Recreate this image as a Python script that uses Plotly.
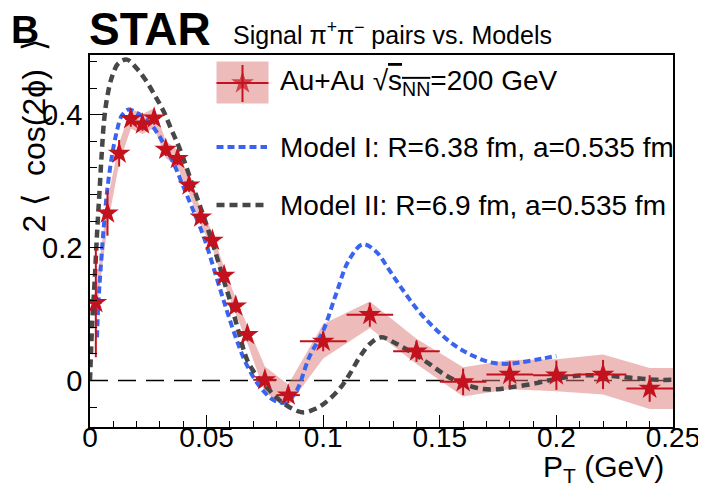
import plotly.graph_objects as go

# ---------------- data ----------------
pt = [0.0025, 0.0075, 0.0125, 0.0175, 0.0225, 0.0275, 0.0325, 0.0375, 0.0425, 0.0475,
      0.0525, 0.0575, 0.0625, 0.0675, 0.075, 0.085, 0.10, 0.12, 0.14, 0.16,
      0.18, 0.20, 0.22, 0.24]
v2 = [0.117, 0.252, 0.342, 0.394, 0.386, 0.395, 0.348, 0.334, 0.294, 0.246,
      0.211, 0.158, 0.112, 0.069, 0.001, -0.022, 0.059, 0.099, 0.044, -0.002,
      0.009, 0.008, 0.009, -0.012]
pt_err = [0.0025, 0.0025, 0.0025, 0.0025, 0.0025, 0.0025, 0.0025, 0.0025, 0.0025, 0.0025,
          0.0025, 0.0025, 0.0025, 0.0025, 0.005, 0.005, 0.01, 0.01, 0.01, 0.01,
          0.01, 0.01, 0.01, 0.01]
stat_err = [0.082, 0.034, 0.02, 0.012, 0.01, 0.01, 0.01, 0.01, 0.01, 0.01,
            0.01, 0.01, 0.01, 0.01, 0.012, 0.012, 0.015, 0.018, 0.016, 0.02,
            0.02, 0.022, 0.022, 0.02]
sys_err = [0.02, 0.02, 0.015, 0.015, 0.015, 0.015, 0.013, 0.013, 0.012, 0.012,
           0.012, 0.012, 0.012, 0.013, 0.02, 0.016, 0.026, 0.02, 0.019, 0.022,
           0.022, 0.024, 0.03, 0.031]

model1_x = [0.003, 0.0035, 0.0045, 0.006, 0.0075, 0.0095, 0.0115, 0.0135, 0.0165, 0.020,
            0.0245, 0.029, 0.033, 0.0365, 0.040, 0.0444, 0.049, 0.054, 0.0586, 0.063,
            0.067, 0.073, 0.079, 0.084, 0.0886, 0.094, 0.100, 0.1056, 0.111, 0.117,
            0.1227, 0.128, 0.134, 0.141, 0.148, 0.1555, 0.1626, 0.171, 0.178, 0.184,
            0.194, 0.200]
model1_y = [0.065, 0.11, 0.165, 0.235, 0.29, 0.34, 0.375, 0.398, 0.408, 0.403,
            0.392, 0.372, 0.347, 0.322, 0.292, 0.255, 0.214, 0.158, 0.106, 0.060,
            0.025, -0.010, -0.030, -0.033, -0.015, 0.035, 0.075, 0.131, 0.181, 0.205,
            0.194, 0.168, 0.137, 0.104, 0.078, 0.055, 0.040, 0.028, 0.025, 0.027,
            0.033, 0.037]

model2_x = [0.0, 0.001, 0.002, 0.003, 0.004, 0.005, 0.006, 0.0073, 0.0095, 0.0123,
            0.0159, 0.020, 0.0237, 0.028, 0.0316, 0.035, 0.0387, 0.0444, 0.0494, 0.0536,
            0.057, 0.0605, 0.064, 0.0675, 0.0714, 0.0757, 0.0814, 0.087, 0.0914, 0.0964,
            0.101, 0.107, 0.111, 0.1156, 0.120, 0.125, 0.131, 0.138, 0.1455, 0.1527,
            0.160, 0.168, 0.175, 0.181, 0.19, 0.2, 0.21, 0.221, 0.232, 0.244, 0.25]
model2_y = [0.0, 0.09, 0.15, 0.22, 0.28, 0.34, 0.39, 0.425, 0.458, 0.478,
            0.483, 0.470, 0.453, 0.428, 0.405, 0.377, 0.347, 0.29, 0.24, 0.195,
            0.155, 0.115, 0.07, 0.03, 0.0075, -0.010, -0.030, -0.043, -0.048, -0.043,
            -0.033, -0.0125, 0.0075, 0.035, 0.055, 0.065, 0.056, 0.042, 0.025, 0.0075,
            -0.005, -0.0125, -0.013, -0.010, -0.005, 0.0025, 0.0075, 0.0075, 0.004, 0.001, 0.001]

x_ticks = [0, 0.05, 0.1, 0.15, 0.2, 0.25]
x_ticklabels = ["0", "0.05", "0.1", "0.15", "0.2", "0.25"]
y_ticks = [0, 0.2, 0.4]
y_ticklabels = ["0", "0.2", "0.4"]

legend_labels = ["Au+Au √<span style='text-decoration:overline'>s<sub>NN</sub></span>=200 GeV",
                 "Model I: R=6.38 fm, a=0.535 fm",
                 "Model II: R=6.9 fm, a=0.535 fm"]

# ---------------- styles ----------------
OFF = 8                       # page body margin in the browser
W, H = 706 - OFF, 494 - OFF   # figure size so the page is exactly 706x494
L, R, T, B = 90 - OFF, 33, 55 - OFF, 67
FONT = "Liberation Sans, Arial, Helvetica, sans-serif"
RED = "#c3121e"
BAND = "rgba(221,120,120,0.5)"
BLUE = "#3a64f0"
GRAY = "#474747"

pw = W - L - R
ph = H - T - B


def px2x(px):
    """page pixel x -> plot-area fraction"""
    return (px - OFF - L) / pw


def py2y(py):
    """page pixel y -> plot-area fraction"""
    return (H - B - (py - OFF)) / ph


fig = go.Figure()

# systematic band (extended to the right edge of the last bin)
band_x = pt + [pt[-1] + pt_err[-1]]
band_hi = [v + s for v, s in zip(v2, sys_err)] + [v2[-1] + sys_err[-1]]
band_lo = [v - s for v, s in zip(v2, sys_err)] + [v2[-1] - sys_err[-1]]
fig.add_trace(go.Scatter(
    x=band_x + band_x[::-1], y=band_hi + band_lo[::-1],
    fill="toself", fillcolor=BAND, line=dict(width=0), mode="lines",
    hoverinfo="skip", showlegend=False))

# models
fig.add_trace(go.Scatter(x=model1_x, y=model1_y, mode="lines",
                         line=dict(color=BLUE, width=4, dash="7px,4px", shape="spline"),
                         showlegend=False))
fig.add_trace(go.Scatter(x=model2_x, y=model2_y, mode="lines",
                         line=dict(color=GRAY, width=4.5, dash="8px,5px", shape="spline"),
                         showlegend=False))

# data
fig.add_trace(go.Scatter(
    x=pt, y=v2, mode="markers",
    marker=dict(symbol="star", size=17, color=RED, line=dict(width=0)),
    error_y=dict(type="data", array=stat_err, color=RED, thickness=2, width=0),
    error_x=dict(type="data", array=pt_err, color=RED, thickness=2, width=0),
    showlegend=False))

# legend star marker on an overlay axis in plot-fraction coordinates
fig.add_trace(go.Scatter(x=[px2x(242.5)], y=[py2y(83)], xaxis="x2", yaxis="y2",
                         mode="markers", marker=dict(symbol="star", size=17, color=RED),
                         showlegend=False, hoverinfo="skip"))

shapes = []
# zero line
shapes.append(dict(type="line", xref="paper", yref="y", x0=0, x1=1, y0=0, y1=0,
                   line=dict(color="black", width=1.5, dash="18px,10px"), layer="below"))
# legend glyphs
shapes.append(dict(type="rect", xref="paper", yref="paper",
                   x0=px2x(216.5), x1=px2x(268.5), y0=py2y(103.5), y1=py2y(61.5),
                   fillcolor=BAND, line=dict(width=0)))
shapes.append(dict(type="line", xref="paper", yref="paper",
                   x0=px2x(216.5), x1=px2x(268.5), y0=py2y(83), y1=py2y(83),
                   line=dict(color=RED, width=2)))
shapes.append(dict(type="line", xref="paper", yref="paper",
                   x0=px2x(242.5), x1=px2x(242.5), y0=py2y(65), y1=py2y(102),
                   line=dict(color=RED, width=2)))
shapes.append(dict(type="line", xref="paper", yref="paper",
                   x0=px2x(216.5), x1=px2x(267), y0=py2y(147), y1=py2y(147),
                   line=dict(color=BLUE, width=4, dash="7px,4px")))
shapes.append(dict(type="line", xref="paper", yref="paper",
                   x0=px2x(216.5), x1=px2x(267), y0=py2y(205), y1=py2y(205),
                   line=dict(color=GRAY, width=4.5, dash="8px,5px")))

annotations = []
for lab, yy in zip(legend_labels, [82, 147, 205]):
    annotations.append(dict(text=lab, xref="paper", yref="paper", x=px2x(278), y=py2y(yy),
                            xanchor="left", yanchor="middle", showarrow=False,
                            font=dict(family=FONT, size=28, color="black")))
# title pieces
annotations.append(dict(text="<b>B</b>", xref="paper", yref="paper", x=px2x(9), y=py2y(29),
                        xanchor="left", yanchor="middle", showarrow=False,
                        font=dict(family=FONT, size=39, color="black")))
annotations.append(dict(text="<b>STAR</b>", xref="paper", yref="paper", x=px2x(87), y=py2y(29),
                        xanchor="left", yanchor="middle", showarrow=False,
                        font=dict(family=FONT, size=46, color="black")))
annotations.append(dict(text="Signal π<sup>+</sup>π<sup>−</sup> pairs vs. Models", xref="paper",
                        yref="paper", x=px2x(231), y=py2y(33),
                        xanchor="left", yanchor="middle", showarrow=False,
                        font=dict(family=FONT, size=25, color="black")))
# axis titles
annotations.append(dict(text="2\u00a0⟨\u00a0\u00a0cos(2ϕ)\u00a0\u00a0⟩", xref="paper",
                        yref="paper", x=px2x(33),
                        y=py2y(38), xanchor="center", yanchor="top", textangle=-90,
                        showarrow=False, font=dict(family=FONT, size=32, color="black")))
annotations.append(dict(text="P<sub>T</sub> (GeV)", xref="paper", yref="paper", x=px2x(666),
                        y=py2y(469), xanchor="right", yanchor="middle",
                        showarrow=False, font=dict(family=FONT, size=30, color="black")))

fig.update_layout(
    width=W, height=H, margin=dict(l=L, r=R, t=T, b=B, autoexpand=False),
    paper_bgcolor="white", plot_bgcolor="white",
    showlegend=False, shapes=shapes, annotations=annotations,
    xaxis=dict(range=[0, 0.25], showline=True, linecolor="black", linewidth=1.5, mirror=True,
               ticks="inside", ticklen=12, tickwidth=1.2, tickcolor="black",
               tickvals=x_ticks, ticktext=x_ticklabels, showgrid=False, zeroline=False,
               automargin=False, ticklabelstandoff=-15,
               tickfont=dict(family=FONT, size=28, color="black"),
               minor=dict(ticks="inside", ticklen=6, dtick=0.01, tickcolor="black",
                          tickwidth=1.2, showgrid=False)),
    yaxis=dict(range=[-0.07, 0.49], showline=True, linecolor="black", linewidth=1.5, mirror=True,
               ticks="inside", ticklen=13, tickwidth=1.2, tickcolor="black",
               tickvals=y_ticks, ticktext=y_ticklabels, showgrid=False, zeroline=False,
               automargin=False,
               tickfont=dict(family=FONT, size=29, color="black"),
               minor=dict(ticks="inside", ticklen=7, dtick=0.04, tick0=0, tickcolor="black",
                          tickwidth=1.2, showgrid=False)),
    xaxis2=dict(overlaying="x", range=[0, 1], visible=False),
    yaxis2=dict(overlaying="y", range=[0, 1], visible=False),
)

fig.write_html("out.html")
